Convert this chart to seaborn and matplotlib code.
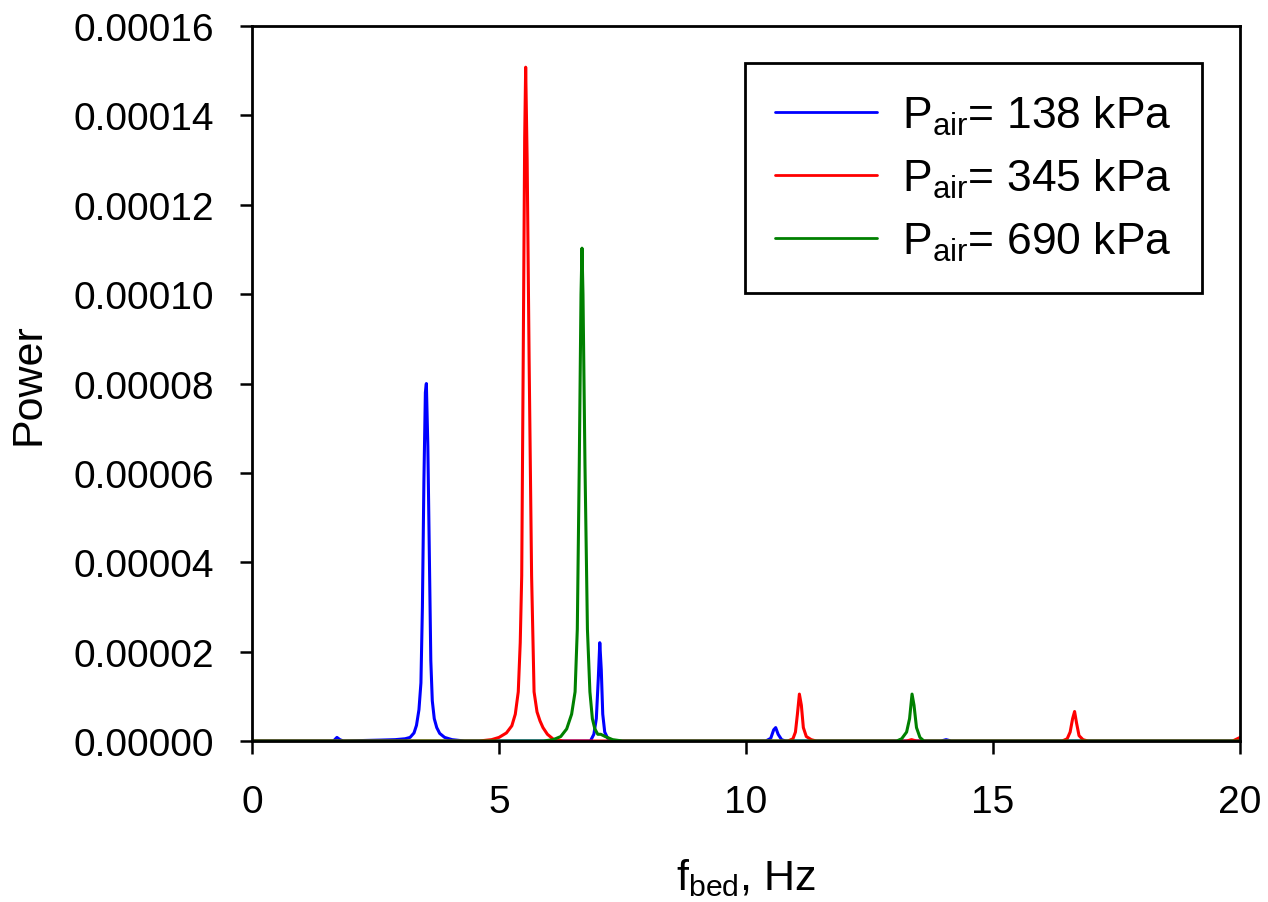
import numpy as np
import pandas as pd
import matplotlib
matplotlib.use("Agg")
import matplotlib.pyplot as plt
import seaborn as sns

# ---- data ----
f_138 = [0.0, 1.65, 1.72, 1.78, 1.85, 2.6, 2.9, 3.1, 3.2, 3.28, 3.33, 3.38, 3.42, 3.45,
         3.48, 3.51, 3.53, 3.56, 3.59, 3.62, 3.65, 3.69, 3.74, 3.80, 3.90, 4.05, 4.3,
         6.85, 6.92, 6.97, 7.01, 7.04, 7.07, 7.10, 7.14, 7.20, 7.30,
         10.40, 10.50, 10.56, 10.60, 10.65, 10.72, 10.80,
         13.95, 14.05, 14.15, 20.0]
p_138 = [0.0, 0.0, 8e-7, 3e-7, 0.0, 2e-7, 3e-7, 5e-7, 8e-7, 1.8e-6, 3.5e-6, 7e-6, 1.3e-5, 3.0e-5,
         5.8e-5, 7.8e-5, 8.0e-5, 6.6e-5, 4.2e-5, 1.8e-5, 9e-6, 5e-6, 3e-6, 1.7e-6, 8e-7, 3e-7, 0.0,
         0.0, 1.5e-6, 5e-6, 1.4e-5, 2.2e-5, 1.6e-5, 6e-6, 2e-6, 6e-7, 0.0,
         0.0, 6e-7, 2.5e-6, 3e-6, 1.5e-6, 3e-7, 0.0,
         0.0, 3e-7, 0.0, 0.0]

f_345 = [0.0, 4.6, 4.85, 5.0, 5.15, 5.26, 5.33, 5.39, 5.43, 5.46, 5.49, 5.52, 5.54, 5.57,
         5.61, 5.66, 5.71, 5.77, 5.83, 5.89, 5.98, 6.1, 6.3,
         10.85, 10.95, 11.0, 11.04, 11.08, 11.12, 11.16, 11.22, 11.32, 11.42,
         13.25, 13.35, 13.45,
         16.40, 16.50, 16.56, 16.61, 16.65, 16.69, 16.74, 16.82, 16.92,
         19.85, 20.0]
p_345 = [0.0, 0.0, 3e-7, 8e-7, 1.8e-6, 3.4e-6, 6e-6, 1.1e-5, 2.2e-5, 3.7e-5, 8.5e-5, 1.35e-4, 1.508e-4, 1.3e-4,
         8.5e-5, 3.7e-5, 1.1e-5, 6.5e-6, 4.5e-6, 3e-6, 1.5e-6, 4e-7, 0.0,
         0.0, 5e-7, 2e-6, 6e-6, 1.05e-5, 8e-6, 3e-6, 1e-6, 3e-7, 0.0,
         0.0, 3e-7, 0.0,
         0.0, 5e-7, 2e-6, 5e-6, 6.6e-6, 4e-6, 1.2e-6, 3e-7, 0.0,
         0.0, 8e-7]

f_690 = [0.0, 5.9, 6.1, 6.25, 6.37, 6.47, 6.54, 6.585, 6.625, 6.66, 6.68, 6.70, 6.74, 6.79,
         6.84, 6.89, 6.94, 7.0, 7.06, 7.15, 7.3, 7.5,
         13.05, 13.15, 13.25, 13.31, 13.36, 13.40, 13.45, 13.52, 13.60, 20.0]
p_690 = [0.0, 0.0, 3e-7, 1e-6, 2.7e-6, 6e-6, 1.1e-5, 2.5e-5, 6.2e-5, 1.0e-4, 1.103e-4, 1.0e-4, 6.2e-5, 2.5e-5,
         1.1e-5, 5e-6, 2.7e-6, 1.5e-6, 1.5e-6, 1e-6, 3e-7, 0.0,
         0.0, 5e-7, 2e-6, 5e-6, 1.05e-5, 8e-6, 3e-6, 8e-7, 0.0, 0.0]

series_labels = [r"P$_{\mathrm{air}}$= 138 kPa",
                 r"P$_{\mathrm{air}}$= 345 kPa",
                 r"P$_{\mathrm{air}}$= 690 kPa"]
series_colors = ["#0000ff", "#ff0000", "#008000"]

x_ticks = [0, 5, 10, 15, 20]
y_ticks = [0.0, 0.00002, 0.00004, 0.00006, 0.00008, 0.00010, 0.00012, 0.00014, 0.00016]

# ---- build long table ----
frames = []
for f, p, lab in zip([f_138, f_345, f_690], [p_138, p_345, p_690], series_labels):
    frames.append(pd.DataFrame({"f": f, "P": p, "series": lab}))
df = pd.concat(frames, ignore_index=True)

sns.set_style("ticks")
plt.rcParams["font.family"] = ["Liberation Sans", "DejaVu Sans"]
plt.rcParams["mathtext.fontset"] = "custom"
plt.rcParams["mathtext.rm"] = "Liberation Sans"
plt.rcParams["mathtext.it"] = "Liberation Sans:italic"
plt.rcParams["mathtext.bf"] = "Liberation Sans:bold"
plt.rcParams["text.color"] = "black"
plt.rcParams["axes.labelcolor"] = "black"
plt.rcParams["xtick.color"] = "black"
plt.rcParams["ytick.color"] = "black"

fig = plt.figure(figsize=(12.68, 9.03), dpi=100)
ax = fig.add_axes([0.1987, 0.1783, 0.7793, 0.7917])

sns.lineplot(data=df, x="f", y="P", hue="series", palette=series_colors,
             hue_order=series_labels, sort=False, estimator=None,
             linewidth=2.2, ax=ax)

ax.set_xlim(0, 20)
ax.set_ylim(0, 0.00016)
ax.set_xticks(x_ticks)
ax.set_xticklabels([str(t) for t in x_ticks])
ax.set_yticks(y_ticks)
ax.set_yticklabels([f"{t:.5f}" for t in y_ticks])
ax.tick_params(axis="both", direction="out", length=9, width=1.8,
               labelsize=28, color="black", labelcolor="black",
               top=False, right=False)
ax.tick_params(axis="y", pad=18)
ax.tick_params(axis="x", pad=22)
for s in ax.spines.values():
    s.set_visible(True)
    s.set_linewidth(2.0)
    s.set_color("black")

ax.set_xlabel(r"f$_{\mathrm{bed}}$, Hz", fontsize=31, labelpad=26, color="black")
ax.set_ylabel("Power", fontsize=31, labelpad=18, color="black")

leg = ax.legend(loc="upper right", bbox_to_anchor=(0.9615, 0.948), fontsize=32,
                frameon=True, fancybox=False, edgecolor="black", framealpha=1.0,
                borderaxespad=0.0,
                handlelength=2.3, handletextpad=0.56, borderpad=0.68,
                labelspacing=0.45)
leg.get_frame().set_linewidth(2.0)
for h in leg.get_lines():
    h.set_linewidth(2.0)

fig.savefig("out.png", dpi=100, facecolor="white")
